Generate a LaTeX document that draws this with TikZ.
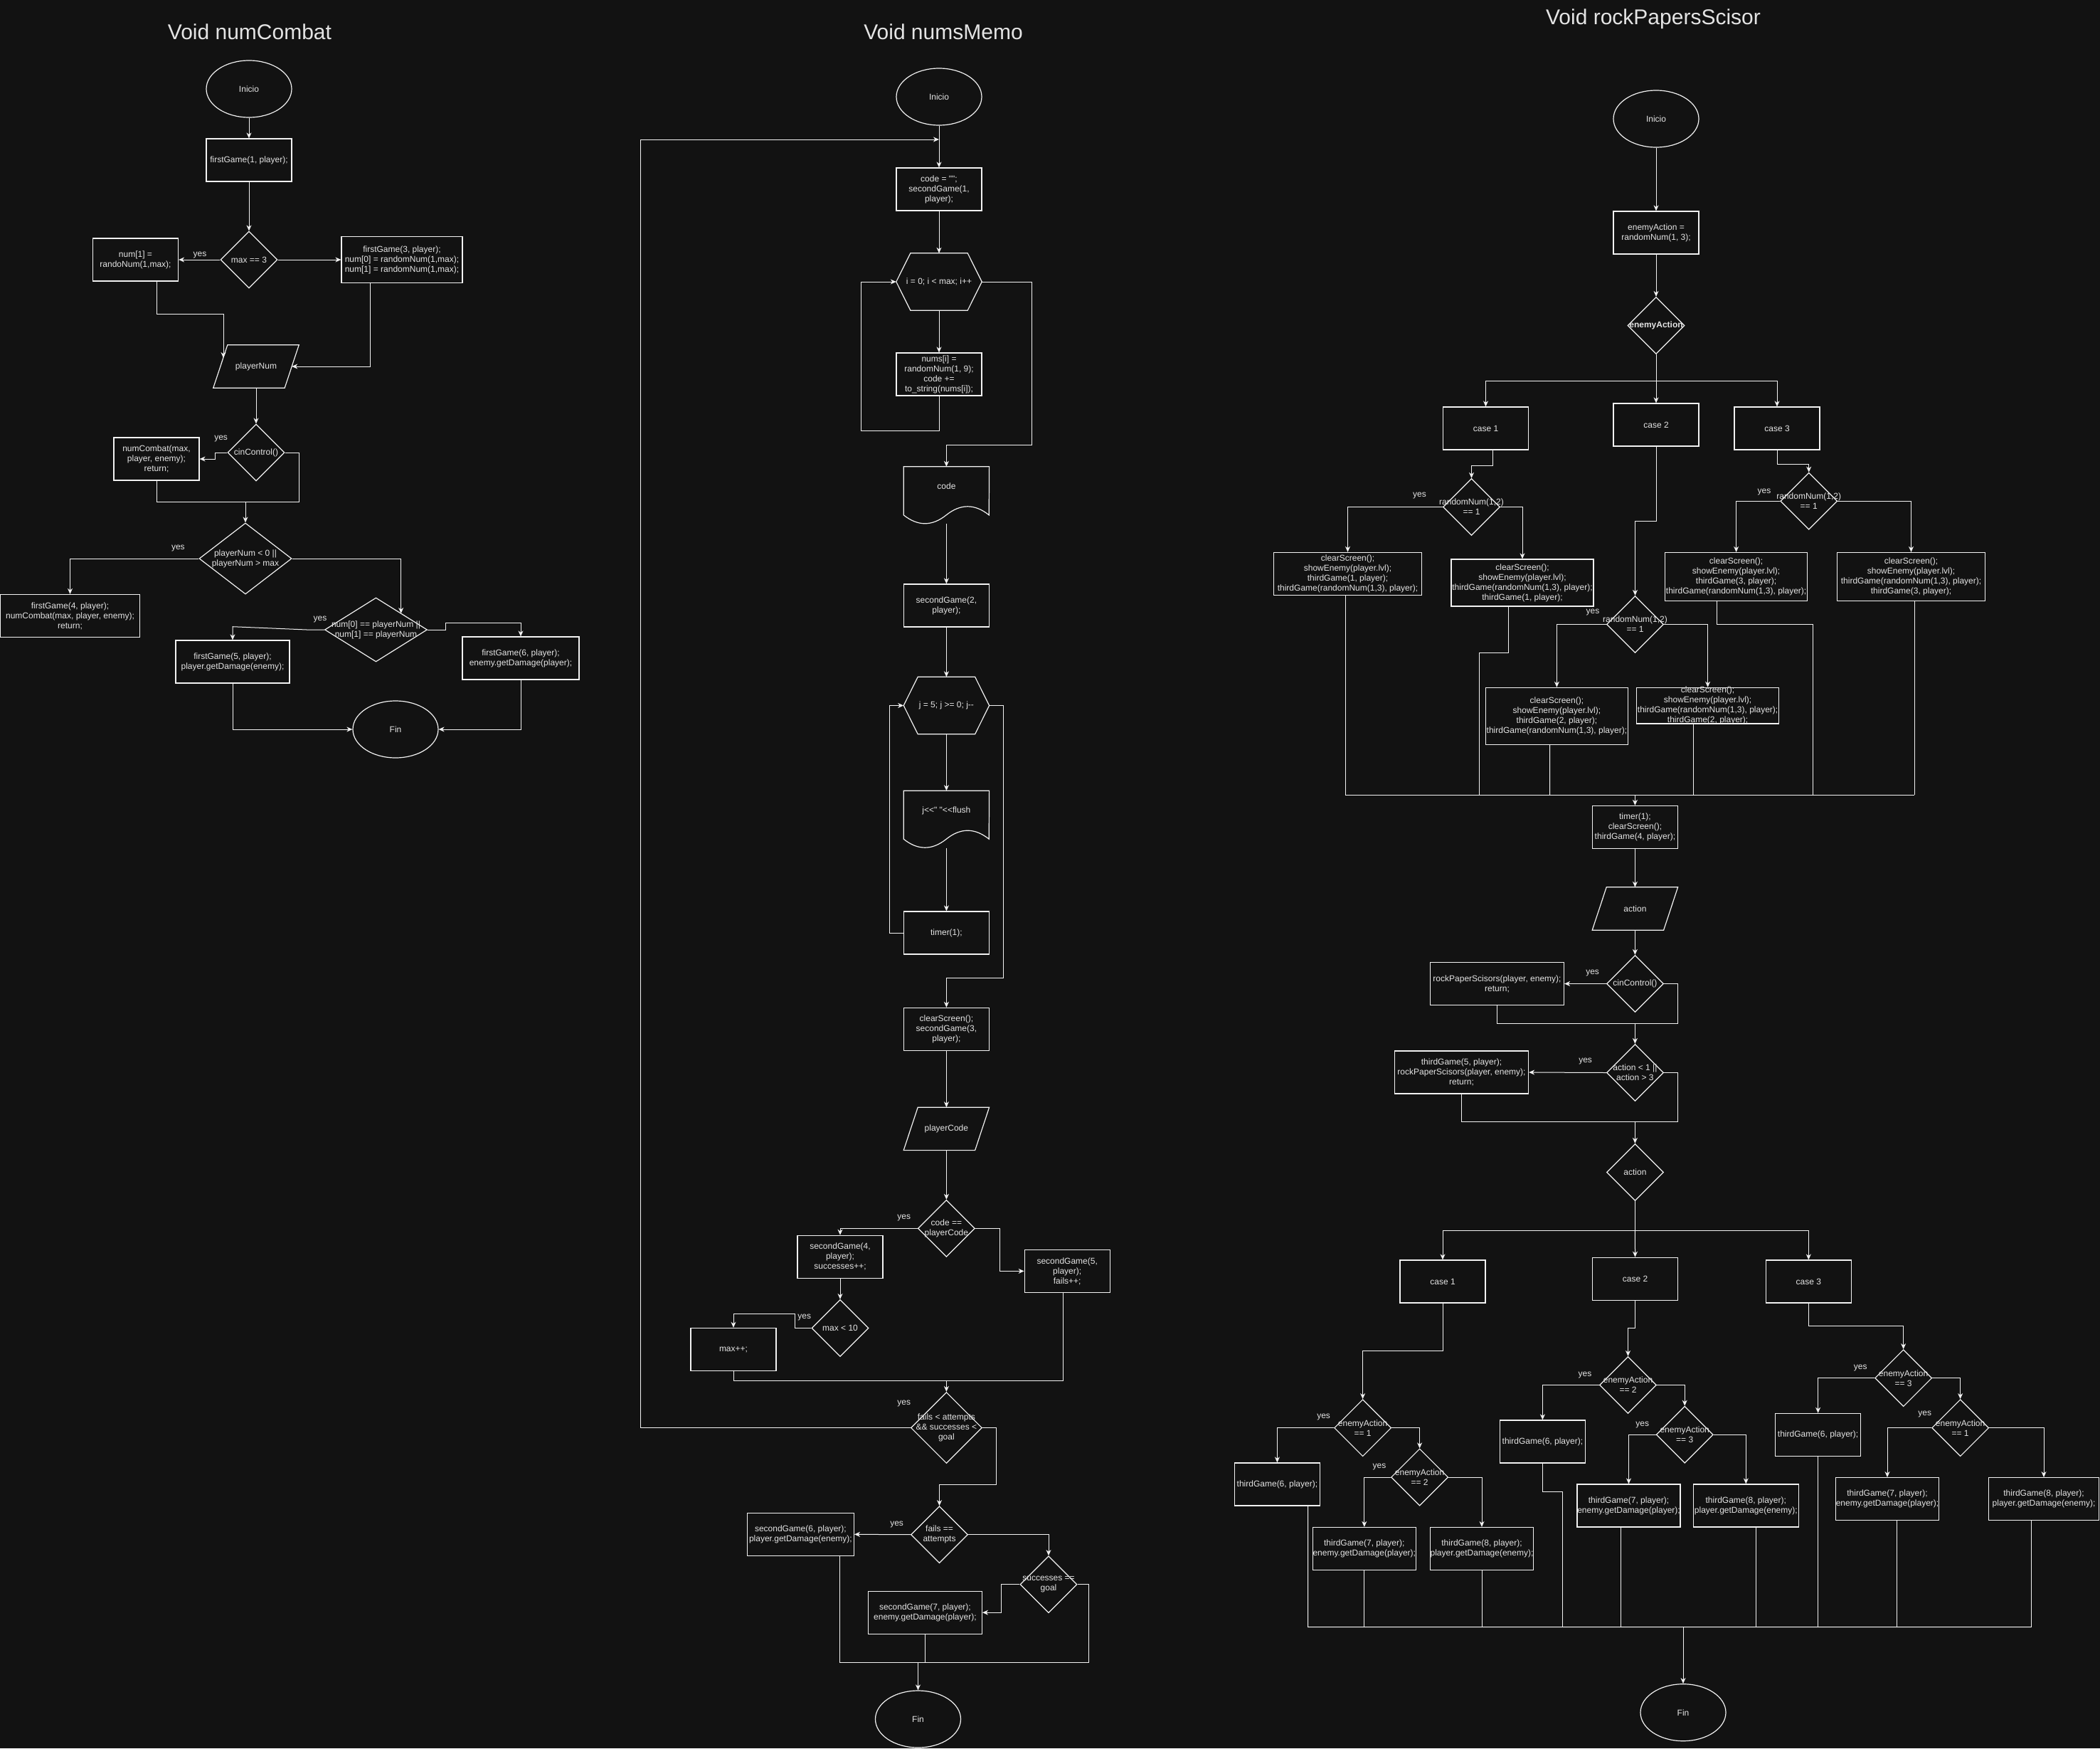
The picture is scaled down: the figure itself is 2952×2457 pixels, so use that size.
\documentclass[tikz,border=0pt]{standalone}
\usepackage{fontspec}
\setmainfont{Liberation Sans}[Ligatures=TeXOff]
\usetikzlibrary{shapes.geometric,arrows.meta,calc}
\definecolor{bgc}{HTML}{121212}
\definecolor{lc}{HTML}{F2F2F2}
\definecolor{tc}{HTML}{E4E4E4}
\newcommand\myfs{\fontsize{12}{14}\selectfont}
\newcommand\mytf{\fontsize{30}{36}\selectfont}
\newcommand\mypar[1]{\draw[shp] ($(#1.south west)+(-10,0)$) -- ($(#1.north west)+(10,0)$) -- ($(#1.north east)+(10,0)$) -- ($(#1.south east)+(-10,0)$) -- cycle;}
\newcommand\myhex[1]{\draw[shp] (#1.west) -- ($(#1.north west)+(20,0)$) -- ($(#1.north east)+(-20,0)$) -- (#1.east) -- ($(#1.south east)+(-20,0)$) -- ($(#1.south west)+(20,0)$) -- cycle;}
\newcommand\mydoc[1]{\draw[shp] (#1.north west) -- (#1.north east) -- ($(#1.north west)+(120,68)$) .. controls ($(#1.north west)+(100,52)$) and ($(#1.north west)+(80,52)$) .. ($(#1.north west)+(60,68)$) .. controls ($(#1.north west)+(40,84)$) and ($(#1.north west)+(20,84)$) .. ($(#1.north west)+(0,68)$) -- cycle;}
\begin{document}
\begin{tikzpicture}[x=1pt,y=-1pt,
  every node/.style={font=\myfs, text=tc},
  shp/.style={draw=lc, line width=1.2pt},
  wh/.style 2 args={minimum width=#1pt, minimum height=#2pt},
  box/.style={shp, rectangle, inner sep=0pt, align=center},
  ell/.style={shp, ellipse, inner sep=0pt, minimum width=120pt, minimum height=80pt},
  dia/.style={shp, diamond, inner sep=0pt},
  inv/.style={rectangle, inner sep=0pt, align=center},
  txt/.style={inner sep=0pt, align=center},
  ttl/.style={font=\mytf, inner sep=0pt},
  ln/.style={draw=lc, line width=1pt},
  arr/.style={draw=lc, line width=1pt, -{Stealth[length=8pt,width=7pt,inset=2.5pt]}},
]
\fill[bgc] (0,0) rectangle (2952,2457);
\useasboundingbox (0,0) rectangle (2952,2457);

% ================= numCombat
\node[ttl] (t1) at (351,45) {Void numCombat};
\node[ell] (a0) at (350,125) {Inicio};
\node[box, wh={120}{60}] (a1) at (350,225) {firstGame(1, player);};
\node[dia, wh={80}{80}, label={[txt]center:{max == 3}}] (a2) at (350,365) {};
\node[box, wh={120}{60}] (a3) at (190.5,365) {num[1] =\\randoNum(1,max);};
\node[box, wh={170}{65}] (a4) at (565,365) {firstGame(3, player);\\num[0] = randomNum(1,max);\\num[1] = randomNum(1,max);};
\node[inv, wh={100}{60}] (a5) at (360,515) {playerNum};
\mypar{a5}
\node[dia, wh={80}{80}, label={[txt]center:{cinControl()}}] (a6) at (360,636) {};
\node[box, wh={120}{60}] (a7) at (220,645) {numCombat(max,\\player, enemy);\\return;};
\node[dia, wh={130}{100}, label={[txt]center:{playerNum < 0 ||\\playerNum > max}}] (a8) at (345,785) {};
\node[box, wh={196}{60}] (a9) at (98.5,865.5) {firstGame(4, player);\\numCombat(max, player, enemy);\\return;};
\node[dia, wh={144}{90}, label={[txt]center:{num[0] == playerNum ||\\num[1] == playerNum}}] (a10) at (528.5,885) {};
\node[box, wh={160}{60}] (a11) at (327,930) {firstGame(5, player);\\player.getDamage(enemy);};
\node[box, wh={164}{60}] (a12) at (732,925) {firstGame(6, player);\\enemy.getDamage(player);};
\node[ell] (a13) at (556,1025) {Fin};
\node[txt] (ya1) at (281,359) {yes};
\node[txt] (ya2) at (310.6,616.7) {yes};
\node[txt] (ya3) at (250.4,771) {yes};
\node[txt] (ya4) at (450,870.7) {yes};
\coordinate (pnL) at (314,503);
\coordinate (a10n) at (563.7,862);
\coordinate (ja) at (345,705);

\draw[arr] (a0.south) -- (a1.north);
\draw[arr] (a1.south) -- (a2.north);
\draw[arr] (a2.west) -- (a3.east);
\draw[arr] (a2.east) -- (a4.west);
\draw[arr] ([xshift=30pt]a3.south) |- (314,441) -- (pnL);
\draw[arr] ([xshift=-45pt]a4.south) |- (a5.east);
\draw[arr] (a5.south) -- (a6.north);
\draw[arr] (a6.west) -- (302,636) |- (a7.east);
\draw[ln] (a7.south) |- (420.6,705) |- (a6.east);
\draw[arr] (ja) -- (a8.north);
\draw[arr] (a8.west) -| (a9.north);
\draw[arr] (a8.east) -| (a10n);
\draw[arr] (a10.west) -- (431,885) -- (327,880.7) -- (a11.north);
\draw[arr] (a10.east) -- (626,885) |- (732,875.3) -- (a12.north);
\draw[arr] (a11.south) |- (a13.west);
\draw[arr] (a12.south) |- (a13.east);

% ================= numsMemo
\node[ttl] (t2) at (1326,45) {Void numsMemo};
\node[ell] (b0) at (1320,136) {Inicio};
\coordinate (lp) at (1320,196);
\node[box, wh={120}{60}] (b1) at (1320,266) {code = "";\\secondGame(1,\\player);};
\node[inv, wh={120}{80}] (b2) at (1320,396) {i = 0; i < max; i++};
\myhex{b2}
\node[box, wh={120}{60}] (b3) at (1320,526) {nums[i] =\\randomNum(1, 9);\\code +=\\to\_string(nums[i]);};
\node[inv, wh={120}{80}, label={[txt,yshift=12.5pt]center:code}] (b4) at (1330.4,696) {};
\mydoc{b4}
\node[box, wh={120}{60}] (b5) at (1330.4,851) {secondGame(2,\\player);};
\node[inv, wh={120}{80}] (b6) at (1330.4,991.5) {j = 5; j >= 0; j--};
\myhex{b6}
\node[inv, wh={120}{80}, label={[txt,yshift=12.5pt]center:{j<<" "<<flush}}] (b7) at (1330.4,1151.4) {};
\mydoc{b7}
\node[box, wh={120}{60}] (b8) at (1330.4,1311) {timer(1);};
\node[box, wh={120}{60}] (b9) at (1330.4,1446.4) {clearScreen();\\secondGame(3,\\player);};
\node[inv, wh={100}{60}] (b10) at (1330.4,1586.4) {playerCode};
\mypar{b10}
\node[dia, wh={80}{80}, label={[txt]center:{code ==\\playerCode}}] (b11) at (1330.4,1726.4) {};
\node[box, wh={120}{60}] (b13) at (1181,1766.3) {secondGame(4,\\player);\\successes++;};
\node[box, wh={120}{60}] (b14) at (1500.2,1786.4) {secondGame(5,\\player);\\fails++;};
\node[dia, wh={80}{80}, label={[txt]center:{max < 10}}] (b15) at (1181,1866.5) {};
\node[box, wh={120}{60}] (b16) at (1031,1896.4) {max++;};
\node[dia, wh={100}{100}, label={[txt]center:{fails < attempts\\\&\& successes <\\goal}}] (b17) at (1330.4,2006.5) {};
\node[dia, wh={80}{80}, label={[txt]center:{fails ==\\attempts}}] (b18) at (1320.5,2156.7) {};
\node[box, wh={150}{60}] (b19) at (1125.4,2156.3) {secondGame(6, player);\\player.getDamage(enemy);};
\node[dia, wh={80}{80}, label={[txt]center:{successes ==\\goal}}] (b20) at (1474,2226.7) {};
\node[box, wh={160}{60}] (b21) at (1300.4,2266.2) {secondGame(7, player);\\enemy.getDamage(player);};
\node[ell] (b22) at (1290.5,2416) {Fin};
\node[txt] (yb1) at (1270.7,1711.4) {yes};
\node[txt] (yb2) at (1130.7,1851.7) {yes};
\node[txt] (yb3) at (1270.7,1972) {yes};
\node[txt] (yb4) at (1260.6,2142) {yes};
\coordinate (jb1) at (1330.4,1940.7);
\coordinate (jb2) at (1290.5,2336.7);

\draw[arr] (b0.south) -- (b1.north);
\draw[arr] (b17.west) -| (900.7,196) -- (lp);
\draw[arr] (b1.south) -- (b2.north);
\draw[arr] (b2.south) -- (b3.north);
\draw[arr] (b3.south) -- (1320,605.8) -| (1210.6,396) -- (b2.west);
\draw[arr] (b2.east) -| (1450,625.8) -| (b4.north);
\draw[arr] (b4.south) -- (b5.north);
\draw[arr] (b5.south) -- (b6.north);
\draw[arr] (b6.south) -- (b7.north);
\draw[arr] (b7.south) -- (b8.north);
\draw[arr] (b8.west) -| (1250.5,991.5) -- (b6.west);
\draw[arr] (b6.east) -| (1410,1374) -| (b9.north);
\draw[arr] (b9.south) -- (b10.north);
\draw[arr] (b10.south) -- (b11.north);
\draw[arr] (b11.west) -| (b13.north);
\draw[arr] (b11.east) -- (1405.7,1726.4) |- (b14.west);
\draw[arr] (b13.south) -- (b15.north);
\draw[arr] (b15.west) -- (1117.8,1866.5) |- (1031,1846) -- (b16.north);
\draw[ln] (b16.south) |- (1494,1940.7) -- ([xshift=-6.2pt]b14.south);
\draw[arr] (jb1) -- (b17.north);
\draw[arr] (b17.east) -| (1400,2086) -| (b18.north);
\draw[arr] (b18.west) -- (b19.east);
\draw[arr] (b18.east) -| (b20.north);
\draw[arr] (b20.west) -- (1407,2226.7) |- (b21.east);
\draw[ln] (b20.east) -| (1530.6,2336.7) -| ([xshift=55pt]b19.south);
\draw[ln] (b21.south) -- (1300.4,2336.7);
\draw[arr] (jb2) -- (b22.north);

% ================= rockPapersScisor
\node[ttl] (t3) at (2324,27) {Void rockPapersScisor};
\node[ell] (c0) at (2328,167) {Inicio};
\node[box, wh={120}{60}] (c1) at (2328,327) {enemyAction =\\randomNum(1, 3);};
\node[dia, wh={80}{80}, label={[txt,font=\myfs\bfseries]center:enemyAction}] (c2) at (2328,457.5) {};
\node[box, wh={120}{60}] (c3) at (2088.5,602) {case 1};
\node[box, wh={120}{60}] (c4) at (2328,597) {case 2};
\node[box, wh={120}{60}] (c5) at (2498,602) {case 3};
\node[dia, wh={80}{80}, label={[txt]center:{randomNum(1,2)\\== 1}}] (c6) at (2068.5,712.5) {};
\node[box, wh={208}{60}] (c7) at (1894.5,806.4) {clearScreen();\\showEnemy(player.lvl);\\thirdGame(1, player);\\thirdGame(randomNum(1,3), player);};
\node[box, wh={200}{66}] (c8) at (2140,819) {clearScreen();\\showEnemy(player.lvl);\\thirdGame(randomNum(1,3), player);\\thirdGame(1, player);};
\node[dia, wh={80}{80}, label={[txt]center:{randomNum(1,2)\\== 1}}] (c9) at (2298.5,877.5) {};
\node[box, wh={200}{80}] (c10) at (2188.4,1006.4) {clearScreen();\\showEnemy(player.lvl);\\thirdGame(2, player);\\thirdGame(randomNum(1,3), player);};
\node[box, wh={200}{50.7}, label={[txt]center:{clearScreen();\\showEnemy(player.lvl);\\thirdGame(randomNum(1,3), player);\\thirdGame(2, player);}}] (c11) at (2400.6,991.7) {};
\node[dia, wh={80}{80}, label={[txt]center:{randomNum(1,2)\\== 1}}] (c12) at (2542.7,704.3) {};
\node[box, wh={200}{68}] (c13) at (2440.6,810.5) {clearScreen();\\showEnemy(player.lvl);\\thirdGame(3, player);\\thirdGame(randomNum(1,3), player);};
\node[box, wh={208}{68}] (c14) at (2686.5,810.5) {clearScreen();\\showEnemy(player.lvl);\\thirdGame(randomNum(1,3), player);\\thirdGame(3, player);};
\node[box, wh={120}{60}] (c15) at (2298.4,1162.5) {timer(1);\\clearScreen();\\thirdGame(4, player);};
\node[inv, wh={100}{60}] (c16) at (2298.4,1277) {action};
\mypar{c16}
\node[dia, wh={80}{80}, label={[txt]center:{cinControl()}}] (c17) at (2298.4,1382.5) {};
\node[box, wh={188}{60}] (c18) at (2104.5,1382.5) {rockPaperScisors(player, enemy);\\return;};
\node[dia, wh={80}{80}, label={[txt]center:{action < 1 ||\\action > 3}}] (c19) at (2298.4,1507.5) {};
\node[box, wh={188}{60}] (c20) at (2054.5,1507) {thirdGame(5, player);\\rockPaperScisors(player, enemy);\\return;};
\node[dia, wh={80}{80}, label={[txt]center:action}] (c21) at (2298.4,1647.5) {};
\node[box, wh={120}{60}] (c22) at (2028,1801) {case 1};
\node[box, wh={120}{60}] (c23) at (2298.5,1797.3) {case 2};
\node[box, wh={120}{60}] (c24) at (2542.3,1801) {case 3};
\node[dia, wh={80}{80}, label={[txt]center:{enemyAction\\== 1}}] (c25) at (1915.6,2006.7) {};
\node[box, wh={120}{60}] (c26) at (1795.4,2086) {thirdGame(6, player);};
\node[dia, wh={80}{80}, label={[txt]center:{enemyAction\\== 2}}] (c27) at (1995.6,2076) {};
\node[box, wh={145}{60}] (c28) at (1917.8,2176.5) {thirdGame(7, player);\\enemy.getDamage(player);};
\node[box, wh={145}{60}] (c29) at (2083,2176.5) {thirdGame(8, player);\\player.getDamage(enemy);};
\node[dia, wh={80}{80}, label={[txt]center:{enemyAction\\== 2}}] (c30) at (2288.5,1946.5) {};
\node[box, wh={120}{60}] (c31) at (2168.4,2026) {thirdGame(6, player);};
\node[dia, wh={80}{80}, label={[txt]center:{enemyAction\\== 3}}] (c32) at (2368.2,2016.3) {};
\node[box, wh={145}{60}] (c33) at (2289.5,2116) {thirdGame(7, player);\\enemy.getDamage(player);};
\node[box, wh={148}{60}] (c34) at (2454.3,2116) {thirdGame(8, player);\\player.getDamage(enemy);};
\node[dia, wh={80}{80}, label={[txt]center:{enemyAction\\== 3}}] (c35) at (2675.6,1936.7) {};
\node[box, wh={120}{60}] (c36) at (2555.6,2016.4) {thirdGame(6, player);};
\node[dia, wh={80}{80}, label={[txt]center:{enemyAction\\== 1}}] (c37) at (2755.6,2006.7) {};
\node[box, wh={145}{60}] (c38) at (2653,2106.7) {thirdGame(7, player);\\enemy.getDamage(player);};
\node[box, wh={155}{60}] (c39) at (2873,2106.7) {thirdGame(8, player);\\player.getDamage(enemy);};
\node[ell] (c40) at (2366,2406.7) {Fin};
\node[txt] (yc1) at (1995.5,697) {yes};
\node[txt] (yc2) at (2239,860.4) {yes};
\node[txt] (yc3) at (2480,692) {yes};
\node[txt] (yc4) at (2238.6,1367.9) {yes};
\node[txt] (yc5) at (2228.6,1491.8) {yes};
\node[txt] (yc6) at (1860.6,1991.7) {yes};
\node[txt] (yc7) at (1939,2061.7) {yes};
\node[txt] (yc8) at (2228,1932) {yes};
\node[txt] (yc9) at (2308.7,2002) {yes};
\node[txt] (yc10) at (2615.3,1922.3) {yes};
\node[txt] (yc11) at (2705.7,1987) {yes};
\coordinate (r1) at (2328,535);
\coordinate (r2) at (2298.4,1117);
\coordinate (r3) at (2298.4,1438);
\coordinate (r4) at (2298.4,1576);
\coordinate (r5) at (2298.4,1729.3);
\coordinate (r6) at (2366,2286.7);

\draw[arr] (c0.south) -- (c1.north);
\draw[arr] (c1.south) -- (c2.north);
\draw[ln] (c2.south) -- (r1);
\draw[arr] (r1) -| (c3.north);
\draw[arr] (r1) -- (c4.north);
\draw[arr] (r1) -| (c5.north);
\draw[arr] ([xshift=9.5pt]c3.south) |- (2068.5,654.6) -- (c6.north);
\draw[arr] (c6.west) -| (c7.north);
\draw[arr] (c6.east) -| (c8.north);
\draw[arr] (c4.south) |- (2298.5,732.9) -- (c9.north);
\draw[arr] (c9.west) -| (c10.north);
\draw[arr] (c9.east) -| (c11.north);
\draw[arr] (c5.south) |- (2542.7,652.9) -- (c12.north);
\draw[arr] (c12.west) -| (c13.north);
\draw[arr] (c12.east) -| (c14.north);
\draw[ln] ([xshift=-3.5pt]c7.south) -- (1891,1117) -- (2691.4,1117);
\draw[ln] ([xshift=4.9pt]c14.south) -- (2691.4,1117);
\draw[ln] ([xshift=-19.6pt]c8.south) |- (2079,917) -- (2079,1117);
\draw[ln] ([xshift=-9.8pt]c10.south) -- (2178.6,1117);
\draw[ln] ([xshift=-20.6pt]c11.south) -- (2380,1117);
\draw[ln] ([xshift=-27.6pt]c13.south) |- (2548.3,877) -- (2548.3,1117);
\draw[arr] (r2) -- (c15.north);
\draw[arr] (c15.south) -- (c16.north);
\draw[arr] (c16.south) -- (c17.north);
\draw[arr] (c17.west) -- (c18.east);
\draw[ln] (c17.east) -| (2358.6,1438) -- (r3);
\draw[ln] (c18.south) |- (r3);
\draw[arr] (r3) -- (c19.north);
\draw[arr] (c19.west) -- (c20.east);
\draw[ln] (c19.east) -| (2358.6,1576) -- (r4);
\draw[ln] (c20.south) |- (r4);
\draw[arr] (r4) -- (c21.north);
\draw[ln] (c21.south) -- (r5);
\draw[arr] (r5) -| (c22.north);
\draw[arr] (r5) -- (c23.north);
\draw[arr] (r5) -| (c24.north);
\draw[arr] (c22.south) |- (1915.6,1898.7) -- (c25.north);
\draw[arr] (c25.west) -| (c26.north);
\draw[arr] (c25.east) -| (c27.north);
\draw[arr] (c27.west) -| (c28.north);
\draw[arr] (c27.east) -| (c29.north);
\draw[arr] (c23.south) |- (2288.5,1866.7) -- (c30.north);
\draw[arr] (c30.west) -| (c31.north);
\draw[arr] (c30.east) -| (c32.north);
\draw[arr] (c32.west) -| (c33.north);
\draw[arr] (c32.east) -| (c34.north);
\draw[arr] (c24.south) |- (2675.6,1863.7) -- (c35.north);
\draw[arr] (c35.west) -| (c36.north);
\draw[arr] (c35.east) -| (c37.north);
\draw[arr] (c37.west) -| (c38.north);
\draw[arr] (c37.east) -| (c39.north);
\draw[ln] ([xshift=43.2pt]c26.south) -- (1838.6,2286.7) -- (2855.7,2286.7);
\draw[ln] ([xshift=-17.3pt]c39.south) -- (2855.7,2286.7);
\draw[ln] (c28.south) -- (1917.8,2286.7);
\draw[ln] (c29.south) -- (2083,2286.7);
\draw[ln] (c31.south) |- (2196.5,2096) -- (2196.5,2286.7);
\draw[ln] ([xshift=-10.8pt]c33.south) -- (2278.7,2286.7);
\draw[ln] ([xshift=14.3pt]c34.south) -- (2468.6,2286.7);
\draw[ln] (c36.south) -- (2555.6,2286.7);
\draw[ln] ([xshift=13pt]c38.south) -- (2666,2286.7);
\draw[arr] (r6) -- (c40.north);
\end{tikzpicture}
\end{document}
